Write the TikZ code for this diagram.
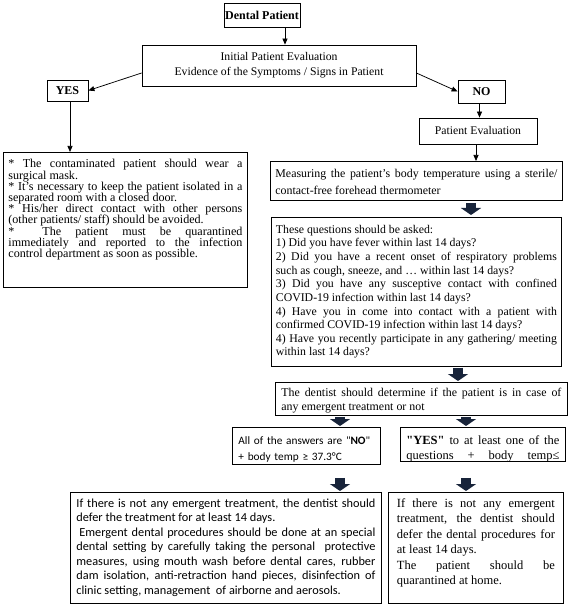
\documentclass[tikz,border=0pt]{standalone}
\usepackage{fontspec}
\setmainfont{Liberation Serif}
\newfontfamily\calibri{Carlito}
\newfontfamily\serifnm{Liberation Serif}[Ligatures=ResetAll]
\newcommand\tightlines{\lineskiplimit=-6pt\relax}
\usetikzlibrary{arrows.meta,calc}
\definecolor{blkc}{RGB}{24,36,58}
\tikzset{
  bx/.style={draw, line width=0.8pt, anchor=north west, inner xsep=6pt, inner ysep=0pt, align=justify},
  cb/.style={draw, line width=0.8pt, inner sep=0pt, align=center},
  arr/.style={line width=0.75pt, -{Triangle[width=5pt,length=6pt]}},
  blk/.style={line width=10pt, draw=blkc, -{Triangle[width=20pt,length=7pt]}},
}
\begin{document}
\begin{tikzpicture}[x=1pt,y=-1pt]
\useasboundingbox (0,0) rectangle (570,609);
\fill[white] (0,0) rectangle (570,609);

\node[cb, minimum width=76pt, minimum height=24pt, font=\bfseries\fontsize{12}{14}\selectfont] (dp) at (262,15) {Dental Patient};
\node[cb, minimum width=274pt, minimum height=41pt, font=\fontsize{11.7}{15}\selectfont] (ie) at (279,65.5) {Initial Patient Evaluation\\Evidence of the Symptoms / Signs in Patient};
\node[cb, minimum width=41pt, minimum height=21pt, font=\bfseries\fontsize{12}{14}\selectfont] (yes) at (67.5,90.5) {YES};
\node[cb, minimum width=47pt, minimum height=23pt, font=\bfseries\fontsize{12}{14}\selectfont] (no) at (481.5,91.5) {NO};
\node[cb, minimum width=118pt, minimum height=26pt, font=\fontsize{11.7}{14}\selectfont] (pe) at (478,131) {Patient Evaluation};

\node[bx, text width=234pt, inner xsep=5pt, text height=15.5pt, text depth=119.5pt, font=\fontsize{12.1}{11.2}\selectfont\tightlines] (lb) at (3,152) {* The contaminated patient should wear a\linebreak surgical mask.\newline * It's necessary to keep the patient isolated in a\linebreak separated room with a closed door.\newline * His/her direct contact with other persons\linebreak (other patients/ staff) should be avoided.\newline *\ \ The patient must be quarantined\linebreak immediately and reported to the infection\linebreak control department as soon as possible.};

\node[bx, text width=282pt, inner xsep=5pt, text height=16pt, text depth=23pt, font=\fontsize{11.9}{17}\selectfont] (ms) at (270,161) {Measuring the patient's body temperature using a sterile/\linebreak contact-free forehead thermometer};

\node[bx, text width=281pt, inner xsep=4.5pt, text height=16pt, text depth=133pt, font=\fontsize{11.8}{13.6}\selectfont] (qs) at (271,217) {These questions should be asked:\newline 1) Did you have fever within last 14 days?\newline 2) Did you have a recent onset of respiratory problems\linebreak such as cough, sneeze, and … within last 14 days?\newline 3) Did you have any susceptive contact with confined\linebreak COVID-19 infection within last 14 days?\newline 4) Have you in come into contact with a patient with\linebreak confirmed COVID-19 infection within last 14 days?\newline 4) Have you recently participate in any gathering/ meeting\linebreak within last 14 days?};

\node[bx, text width=280pt, text height=14pt, text depth=19pt, font=\fontsize{11.9}{14}\selectfont] (dt) at (275,382) {The dentist should determine if the patient is in case of\linebreak any emergent treatment or not};

\node[bx, text width=136pt, text height=17pt, text depth=20pt, align=left, font=\calibri\fontsize{11.3}{16}\selectfont] (na) at (232,427) {\mbox{All of the answers are "\textbf{NO}"}\\+ body temp ≥ 37.3°C};

\node[bx, text width=153pt, text height=17pt, text depth=17pt, font=\fontsize{12.5}{15}\selectfont] (ya) at (400,427) {{\serifnm\bfseries"YES"} to at least one of the\linebreak questions + body temp≤\parfillskip=0pt\par};

\node[bx, text width=299pt, text height=15pt, text depth=96pt, font=\calibri\fontsize{12.3}{14.5}\selectfont] (bl) at (70,492) {If there is not any emergent treatment, the dentist should\linebreak defer the treatment for at least 14 days.\newline\hspace*{3pt}Emergent dental procedures should be done at an special\linebreak dental setting by carefully taking the personal\ \ protective\linebreak measures, using mouth wash before dental cares, rubber\linebreak dam isolation, anti-retraction hand pieces, disinfection of\linebreak clinic setting, management\ \ of airborne and aerosols.};

\node[bx, text width=158pt, inner xsep=8.5pt, text height=15pt, text depth=96pt, font=\fontsize{12.5}{15.4}\selectfont] (br) at (388,492) {If there is not any emergent\linebreak treatment, the dentist should\linebreak defer the dental procedures for\linebreak at least 14 days.\newline The patient should be\linebreak quarantined at home.};

% thin arrows
\coordinate (a1) at ([xshift=23pt]dp.south);
\draw[arr] (a1) -- (a1 |- ie.north);
\draw[arr] ([yshift=-7.5pt]ie.west) -- (yes.east);
\draw[arr] ([yshift=-7.5pt]ie.east) -- (no.west);
\coordinate (a2) at ([xshift=-2pt]no.south);
\draw[arr] (a2) -- (a2 |- pe.north);
\coordinate (a3) at ([xshift=2.5pt]yes.south);
\draw[arr] (a3) -- (a3 |- lb.north);
\coordinate (a4) at ([xshift=-2pt]pe.south);
\draw[arr] (a4) -- (a4 |- ms.north);

% block arrows
\coordinate (b1) at ([xshift=201pt]ms.south west);
\draw[blk, shorten <=2pt, shorten >=2pt] (b1) -- (b1 |- qs.north);
\coordinate (b2) at ([xshift=187pt]qs.south west);
\draw[blk, shorten <=1pt, shorten >=1pt] (b2) -- (b2 |- dt.north);
\coordinate (b3) at ([xshift=65pt]dt.south west);
\draw[blk, shorten <=1pt, shorten >=1pt] (b3) -- (b3 |- na.north);
\coordinate (b4) at ([xshift=191pt]dt.south west);
\draw[blk, shorten <=1pt, shorten >=1pt] (b4) -- (b4 |- ya.north);
\coordinate (b5) at ([xshift=108pt]na.south west);
\draw[blk, shorten <=13pt, shorten >=1pt] (b5) -- (b5 |- bl.north);
\coordinate (b6) at ([xshift=66pt]ya.south west);
\draw[blk, shorten <=16pt, shorten >=1pt] (b6) -- (b6 |- br.north);
\end{tikzpicture}
\end{document}
